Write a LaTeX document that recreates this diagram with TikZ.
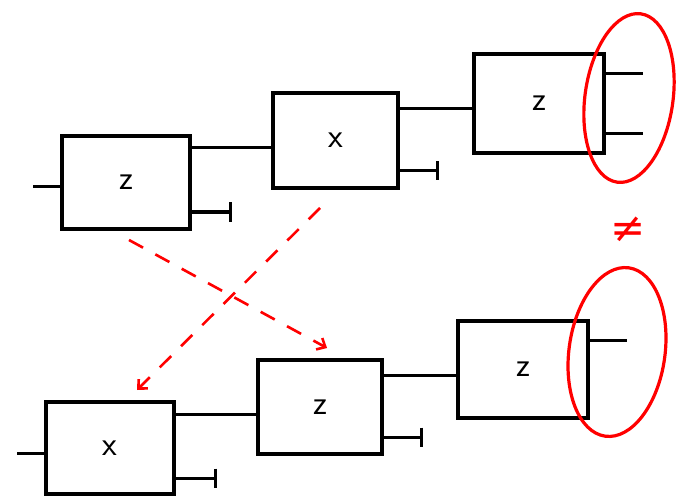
\documentclass[tikz,border=0pt]{standalone}
\usepackage{fontspec}
\newfontfamily\symfont{DejaVu Sans}
\usetikzlibrary{arrows.meta}
\tikzset{
  blk/.style={draw, line width=3.2pt, inner sep=0pt, font=\fontsize{34}{34}\selectfont\sffamily},
  wire/.style={line width=3pt},
  tee/.style={wire, -{Bar[width=19pt]}},
  swap/.style={red, line width=2.6pt, dash pattern=on 16pt off 14pt, -{Straight Barb[length=7pt, width=13pt]}},
  ring/.style={red, line width=3.2pt}
}
\begin{document}
\begin{tikzpicture}[x=1pt, y=-1pt]
\useasboundingbox (0,0) rectangle (685,497);
\node[blk, minimum width=128pt, minimum height=93pt] (b1) at (126,182.5) {z};
\node[blk, minimum width=125pt, minimum height=95pt] (b2) at (335.5,140.5) {x};
\node[blk, minimum width=130pt, minimum height=99pt] (b3) at (539,103.5) {z};
\node[blk, minimum width=128pt, minimum height=92pt] (b4) at (110,448) {x};
\node[blk, minimum width=124pt, minimum height=94pt] (b5) at (320,407) {z};
\node[blk, minimum width=130pt, minimum height=97pt] (b6) at (523,369.5) {z};
\coordinate (in1) at (33,187);
\coordinate (in4) at (17,453);
\coordinate (t1) at (232,212);
\coordinate (t2) at (439,171);
\coordinate (t4) at (217,478);
\coordinate (t5) at (423,437);
\coordinate (o3a) at (643,74);
\coordinate (o3b) at (643,134);
\coordinate (o6) at (627,340);
\draw[wire] (in1) -- (in1 -| b1.west);
\draw[wire] (b1.east |- 0,148) -- (b2.west |- 0,148);
\draw[wire] (b2.east |- 0,109) -- (b3.west |- 0,109);
\draw[tee] (t1 -| b1.east) -- (t1);
\draw[tee] (t2 -| b2.east) -- (t2);
\draw[wire] (o3a -| b3.east) -- (o3a);
\draw[wire] (o3b -| b3.east) -- (o3b);
\draw[wire] (in4) -- (in4 -| b4.west);
\draw[wire] (b4.east |- 0,414) -- (b5.west |- 0,414);
\draw[wire] (b5.east |- 0,375) -- (b6.west |- 0,375);
\draw[tee] (t4 -| b4.east) -- (t4);
\draw[tee] (t5 -| b5.east) -- (t5);
\draw[wire] (o6 -| b6.east) -- (o6);
\coordinate (s1) at (129,240);
\coordinate (e1) at (327,348);
\coordinate (s2) at (320,208);
\coordinate (e2) at (137,390);
\draw[swap] (s1) -- (e1);
\draw[swap] (s2) -- (e2);
\draw[ring, rotate around={-8:(629,98)}] (629,98) ellipse [x radius=44pt, y radius=85pt];
\draw[ring, rotate around={-8:(617,352)}] (617,352) ellipse [x radius=48pt, y radius=85pt];
\node[red, inner sep=0pt, font=\fontsize{42}{42}\selectfont\symfont] (neq) at (628,230) {≠};
\end{tikzpicture}
\end{document}
